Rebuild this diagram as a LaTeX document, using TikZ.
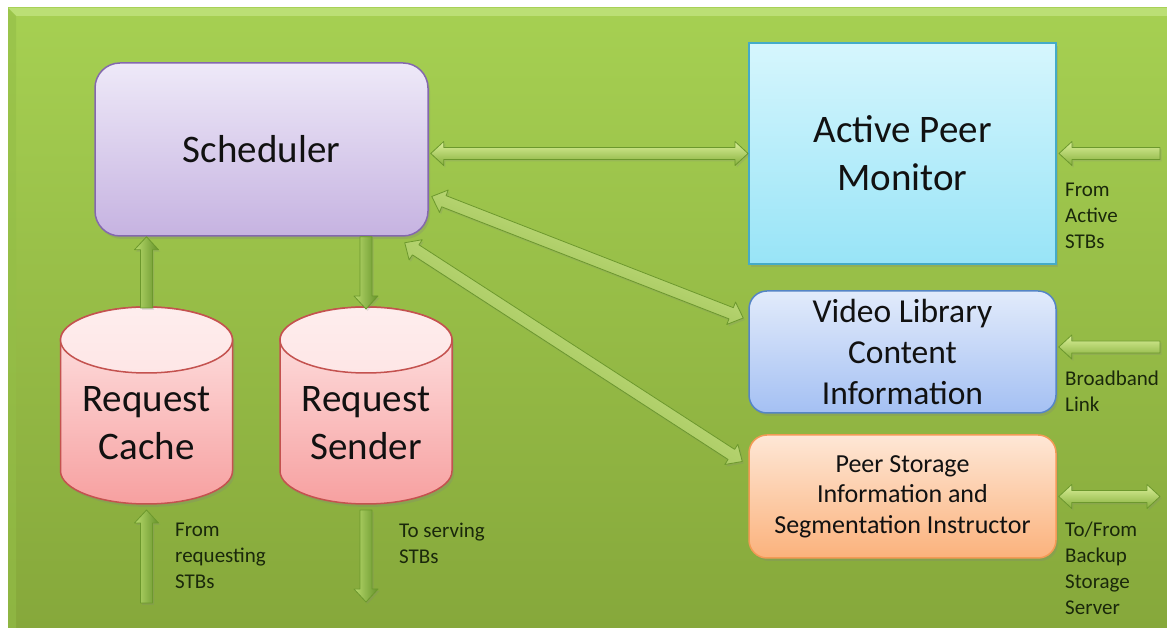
\documentclass[tikz,border=0pt]{standalone}
\usepackage{fontspec}
\setmainfont{Carlito}
\usetikzlibrary{calc,shadows}

\definecolor{bgtop}{HTML}{A6D052}
\definecolor{bgbot}{HTML}{86A83B}
\definecolor{bevlight}{HTML}{BBDF75}
\definecolor{bevdark}{HTML}{94BE47}
\definecolor{schtop}{HTML}{EEE9F8}
\definecolor{schbot}{HTML}{C6B3E1}
\definecolor{schline}{HTML}{8468AE}
\definecolor{apmtop}{HTML}{D6F6FD}
\definecolor{apmbot}{HTML}{98E4F7}
\definecolor{apmline}{HTML}{45ABC8}
\definecolor{vidtop}{HTML}{E2EBFB}
\definecolor{vidbot}{HTML}{A4C0F3}
\definecolor{vidline}{HTML}{5585C6}
\definecolor{pstop}{HTML}{FEE7D6}
\definecolor{psbot}{HTML}{FBB27C}
\definecolor{psline}{HTML}{F39A55}
\definecolor{cyltop}{HTML}{FEE6E6}
\definecolor{cylbot}{HTML}{F7A0A0}
\definecolor{cylline}{HTML}{C4524F}
\definecolor{arrline}{HTML}{6C982D}
\definecolor{txt}{HTML}{111111}
\definecolor{lbltxt}{HTML}{1A280B}
\definecolor{ArrTop}{HTML}{DCF09A}
\definecolor{ArrMid}{HTML}{BFDE70}
\definecolor{ArrBot}{HTML}{86B03C}
\definecolor{VArrTop}{HTML}{B8DA6C}
\definecolor{VArrMid}{HTML}{9AC44E}
\definecolor{VArrBot}{HTML}{66932B}

\tikzset{
  box/.style={draw, line width=1.5pt, inner sep=0pt, align=center, text=txt,
    drop shadow={opacity=0.25, shadow xshift=2pt, shadow yshift=-3pt}},
  bigtext/.style={font=\fontsize{39}{48}\selectfont},
  lbl/.style={font=\fontsize{21}{26}\selectfont, text=lbltxt, align=left,
    inner sep=0pt, anchor=west},
  cyl/.style={draw=cylline, line width=1.5pt, top color=cyltop, bottom color=cylbot},
  blk/.style={draw=arrline, line width=0.8pt, line join=round,
    drop shadow={opacity=0.2, shadow xshift=1.5pt, shadow yshift=-2pt}},
  hshade/.style={top color=ArrTop, middle color=ArrMid, bottom color=ArrBot},
  vshade/.style={top color=VArrTop, middle color=VArrMid, bottom color=VArrBot, shading angle=90},
  % block arrow with one head, pointing at the target
  onehead/.style={to path={
    let \p1=(\tikztostart), \p2=(\tikztotarget), \n1={atan2(\y2-\y1,\x2-\x1)} in
    ($(\p1)+(\n1+90:6pt)$)
    -- ($(\p2)+(\n1+180:13pt)+(\n1+90:6pt)$)
    -- ($(\p2)+(\n1+180:13pt)+(\n1+90:12pt)$)
    -- (\p2)
    -- ($(\p2)+(\n1+180:13pt)+(\n1-90:12pt)$)
    -- ($(\p2)+(\n1+180:13pt)+(\n1-90:6pt)$)
    -- ($(\p1)+(\n1-90:6pt)$) -- cycle}},
  % block arrow with a head at both ends
  twohead/.style={to path={
    let \p1=(\tikztostart), \p2=(\tikztotarget), \n1={atan2(\y2-\y1,\x2-\x1)} in
    ($(\p1)+(\n1:13pt)+(\n1+90:6pt)$)
    -- ($(\p2)+(\n1+180:13pt)+(\n1+90:6pt)$)
    -- ($(\p2)+(\n1+180:13pt)+(\n1+90:12pt)$)
    -- (\p2)
    -- ($(\p2)+(\n1+180:13pt)+(\n1-90:12pt)$)
    -- ($(\p2)+(\n1+180:13pt)+(\n1-90:6pt)$)
    -- ($(\p1)+(\n1:13pt)+(\n1-90:6pt)$)
    -- ($(\p1)+(\n1:13pt)+(\n1-90:12pt)$)
    -- (\p1)
    -- ($(\p1)+(\n1:13pt)+(\n1+90:12pt)$) -- cycle}},
}

\begin{document}
\begin{tikzpicture}[x=1pt,y=1pt]
\useasboundingbox (0,0) rectangle (1167,628);
\fill[white] (0,0) rectangle (1167,628);

% green panel with a bevelled top and left edge
\shade[top color=bgtop, bottom color=bgbot] (8,0) rectangle (1167,620);
\fill[bevlight] (8,620) -- (1167,620) -- (1167,612) -- (16,612) -- cycle;
\fill[bevdark, opacity=0.6] (8,620) -- (16,612) -- (16,0) -- (8,0) -- cycle;

% main blocks
\node[box, bigtext, rounded corners=25pt, minimum width=333pt, minimum height=173pt,
  top color=schtop, bottom color=schbot, draw=schline] (sched) at (261.5,478.5) {Scheduler};
\node[box, bigtext, line width=2pt, minimum width=307pt, minimum height=221pt,
  top color=apmtop, bottom color=apmbot, draw=apmline] (apm) at (902.5,474.5) {Active Peer\\Monitor};
\node[box, font=\fontsize{33.5}{41}\selectfont, rounded corners=18pt, minimum width=307pt, minimum height=122pt,
  top color=vidtop, bottom color=vidbot, draw=vidline] (vlib) at (902.5,276) {Video Library\\Content\\Information};
\node[box, font=\fontsize{26}{30.5}\selectfont, rounded corners=18pt, minimum width=307pt, minimum height=123pt,
  top color=pstop, bottom color=psbot, draw=psline] (pstore) at (902.5,131.5)
  {Peer Storage\\Information and\\Segmentation Instructor};

% the two request stores drawn as cylinders
\path[cyl, drop shadow={opacity=0.25, shadow xshift=2pt, shadow yshift=-3pt}]
  (60.5,288) -- (60.5,157) arc[start angle=180, end angle=360, x radius=86, y radius=33]
  -- (232.5,288) arc[start angle=0, end angle=180, x radius=86, y radius=33] -- cycle;
\path[draw=cylline, line width=1.5pt, top color=cyltop!70!white, bottom color=cyltop]
  (146.5,288) ellipse[x radius=86, y radius=33];
\path[cyl, drop shadow={opacity=0.25, shadow xshift=2pt, shadow yshift=-3pt}]
  (280,288) -- (280,157) arc[start angle=180, end angle=360, x radius=86, y radius=33]
  -- (452,288) arc[start angle=0, end angle=180, x radius=86, y radius=33] -- cycle;
\path[draw=cylline, line width=1.5pt, top color=cyltop!70!white, bottom color=cyltop]
  (366,288) ellipse[x radius=86, y radius=33];
\node[bigtext, text=txt, align=center, inner sep=0pt] (cache) at (146.5,204.5) {Request\\Cache};
\node[bigtext, text=txt, align=center, inner sep=0pt] (sender) at (366,204.5) {Request\\Sender};

\coordinate (cachetop) at (146.5,320);
\coordinate (cachebot) at (146.5,124);
\coordinate (sendtop) at (366,319);
\coordinate (sendbot) at (366,124);
\coordinate (reqin) at (146.5,25);
\coordinate (servout) at (366,26);
\coordinate (actin) at (1160,474.5);
\coordinate (bbin) at (1160,281);
\coordinate (backup) at (1160,131.5);

% connectors
\draw[blk, onehead, vshade] (cachetop) to (cachetop |- sched.south);
\draw[blk, onehead, vshade] (sendtop |- sched.south) to (sendtop);
\draw[blk, twohead, hshade] ([xshift=2pt]sched.east |- apm.west) to (apm.west);
\draw[blk, twohead, hshade, shading angle=-21] ([xshift=3pt,yshift=-47pt]sched.east) to ([xshift=-5pt,yshift=34pt]vlib.west);
\draw[blk, twohead, hshade, shading angle=-33] ([xshift=-24pt,yshift=-6pt]sched.south east) to ([xshift=-6pt,yshift=35pt]pstore.west);
\draw[blk, onehead, hshade] (actin) to ([xshift=2pt]apm.east);
\draw[blk, onehead, hshade] (bbin) to ([xshift=2pt]vlib.east |- bbin);
\draw[blk, twohead, hshade] ([xshift=2pt]pstore.east) to (backup);
\draw[blk, onehead, vshade] (reqin) to ([yshift=-6pt]cachebot);
\draw[blk, onehead, vshade] ([yshift=-6pt]sendbot) to (servout);

% side labels
\node[lbl] (lblreq) at (175,72) {From\\requesting\\STBs};
\node[lbl] (lblserv) at (399,85) {To serving\\STBs};
\node[lbl] (lblact) at (1065,412) {From\\Active\\STBs};
\node[lbl] (lblbb) at (1065,237) {Broadband\\Link};
\node[lbl] (lblbackup) at (1065,59.5) {To/From\\Backup\\Storage\\Server};
\end{tikzpicture}
\end{document}
